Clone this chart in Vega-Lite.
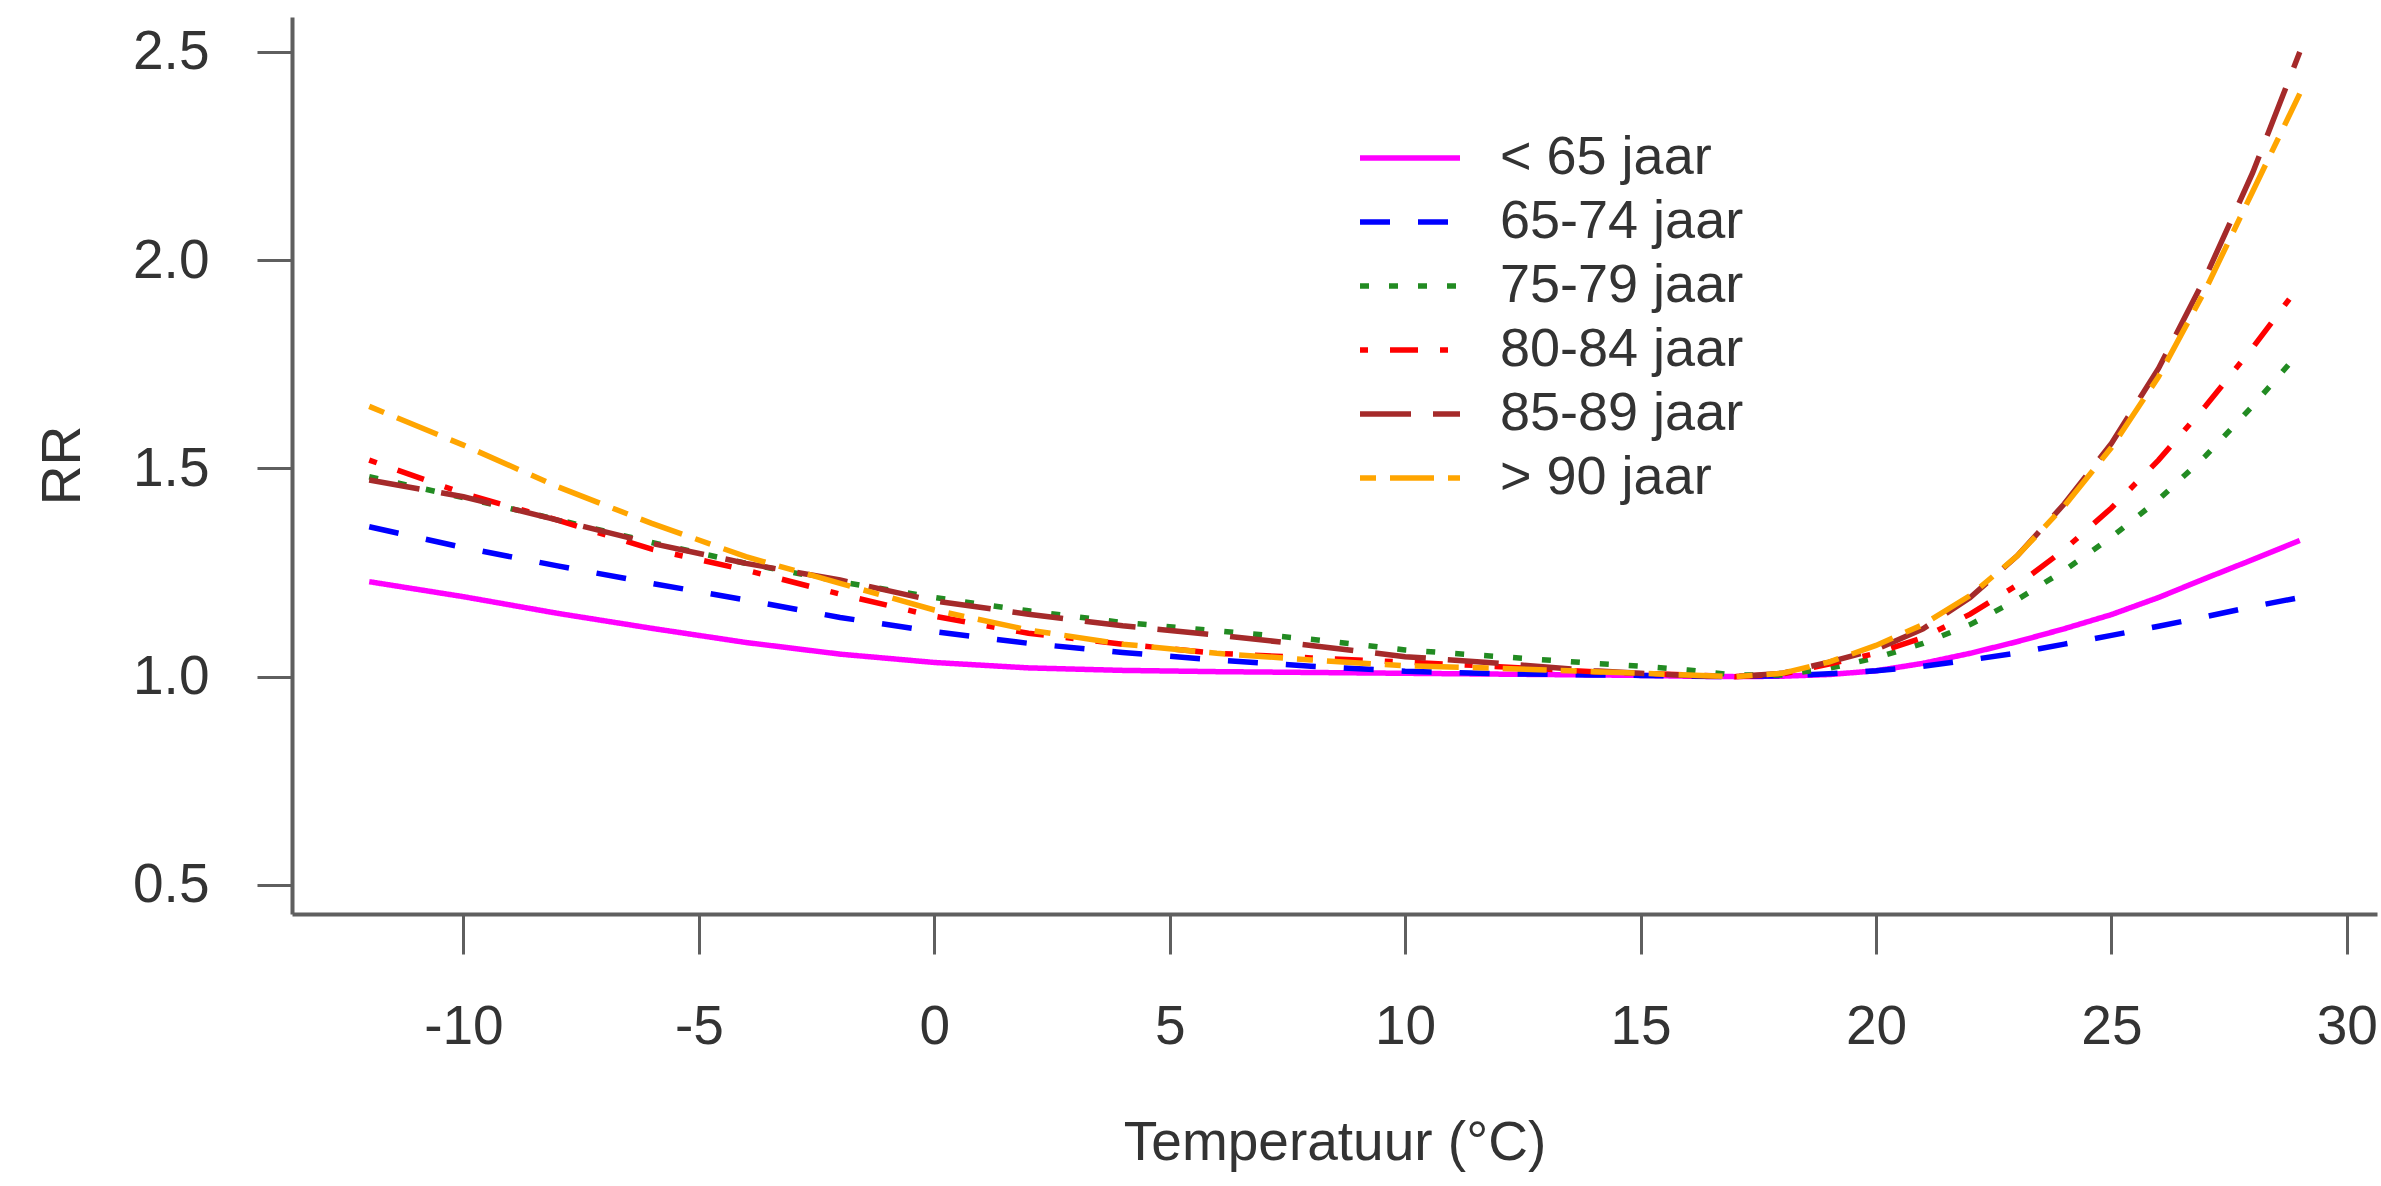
{
  "$schema": "https://vega.github.io/schema/vega-lite/v6.json",
  "width": 2085,
  "height": 897,
  "autosize": {"type": "none"},
  "padding": {"left": 292, "top": 17, "right": 4, "bottom": 272},
  "background": "white",
  "config": {
    "view": {"stroke": null},
    "font": "Liberation Sans",
    "axis": {
      "grid": false,
      "domainColor": "#5f5f5f",
      "domainWidth": 4,
      "tickColor": "#5f5f5f",
      "tickWidth": 3,
      "labelFont": "Liberation Sans",
      "labelFontSize": 55,
      "labelColor": "#333333",
      "titleFont": "Liberation Sans",
      "titleFontSize": 55,
      "titleFontWeight": "normal",
      "titleColor": "#333333",
      "labelFlush": false,
      "labelOverlap": false
    }
  },
  "layer": [
    {
      "mark": {"type": "rule", "color": "#555555", "strokeWidth": 3},
      "encoding": {"y": {"datum": 1, "type": "quantitative"}}
    },
    {
      "data": {"values": [
        {"t": -12, "groep": "< 65 jaar", "rr": 1.228}, {"t": -10, "groep": "< 65 jaar", "rr": 1.192}, {"t": -8, "groep": "< 65 jaar", "rr": 1.152}, {"t": -6, "groep": "< 65 jaar", "rr": 1.116}, {"t": -4, "groep": "< 65 jaar", "rr": 1.082}, {"t": -2, "groep": "< 65 jaar", "rr": 1.054}, {"t": 0, "groep": "< 65 jaar", "rr": 1.034}, {"t": 2, "groep": "< 65 jaar", "rr": 1.021}, {"t": 4, "groep": "< 65 jaar", "rr": 1.015}, {"t": 6, "groep": "< 65 jaar", "rr": 1.012}, {"t": 8, "groep": "< 65 jaar", "rr": 1.01}, {"t": 10, "groep": "< 65 jaar", "rr": 1.008}, {"t": 12, "groep": "< 65 jaar", "rr": 1.006}, {"t": 14, "groep": "< 65 jaar", "rr": 1.004}, {"t": 15, "groep": "< 65 jaar", "rr": 1.003}, {"t": 16, "groep": "< 65 jaar", "rr": 1.001}, {"t": 17, "groep": "< 65 jaar", "rr": 1.0}, {"t": 18, "groep": "< 65 jaar", "rr": 1.001}, {"t": 19, "groep": "< 65 jaar", "rr": 1.005}, {"t": 20, "groep": "< 65 jaar", "rr": 1.014}, {"t": 21, "groep": "< 65 jaar", "rr": 1.032}, {"t": 22, "groep": "< 65 jaar", "rr": 1.056}, {"t": 23, "groep": "< 65 jaar", "rr": 1.084}, {"t": 24, "groep": "< 65 jaar", "rr": 1.115}, {"t": 25, "groep": "< 65 jaar", "rr": 1.149}, {"t": 26, "groep": "< 65 jaar", "rr": 1.19}, {"t": 27, "groep": "< 65 jaar", "rr": 1.236}, {"t": 28, "groep": "< 65 jaar", "rr": 1.281}, {"t": 29, "groep": "< 65 jaar", "rr": 1.327},
        {"t": -12, "groep": "65-74 jaar", "rr": 1.36}, {"t": -10, "groep": "65-74 jaar", "rr": 1.31}, {"t": -8, "groep": "65-74 jaar", "rr": 1.266}, {"t": -6, "groep": "65-74 jaar", "rr": 1.224}, {"t": -4, "groep": "65-74 jaar", "rr": 1.184}, {"t": -2, "groep": "65-74 jaar", "rr": 1.142}, {"t": 0, "groep": "65-74 jaar", "rr": 1.108}, {"t": 2, "groep": "65-74 jaar", "rr": 1.08}, {"t": 4, "groep": "65-74 jaar", "rr": 1.058}, {"t": 6, "groep": "65-74 jaar", "rr": 1.04}, {"t": 8, "groep": "65-74 jaar", "rr": 1.025}, {"t": 10, "groep": "65-74 jaar", "rr": 1.013}, {"t": 12, "groep": "65-74 jaar", "rr": 1.007}, {"t": 14, "groep": "65-74 jaar", "rr": 1.004}, {"t": 15, "groep": "65-74 jaar", "rr": 1.003}, {"t": 16, "groep": "65-74 jaar", "rr": 1.001}, {"t": 17, "groep": "65-74 jaar", "rr": 1.0}, {"t": 18, "groep": "65-74 jaar", "rr": 1.002}, {"t": 19, "groep": "65-74 jaar", "rr": 1.007}, {"t": 20, "groep": "65-74 jaar", "rr": 1.014}, {"t": 21, "groep": "65-74 jaar", "rr": 1.025}, {"t": 22, "groep": "65-74 jaar", "rr": 1.04}, {"t": 23, "groep": "65-74 jaar", "rr": 1.057}, {"t": 24, "groep": "65-74 jaar", "rr": 1.078}, {"t": 25, "groep": "65-74 jaar", "rr": 1.099}, {"t": 26, "groep": "65-74 jaar", "rr": 1.121}, {"t": 27, "groep": "65-74 jaar", "rr": 1.144}, {"t": 28, "groep": "65-74 jaar", "rr": 1.168}, {"t": 29, "groep": "65-74 jaar", "rr": 1.19},
        {"t": -12, "groep": "75-79 jaar", "rr": 1.48}, {"t": -10, "groep": "75-79 jaar", "rr": 1.43}, {"t": -8, "groep": "75-79 jaar", "rr": 1.377}, {"t": -6, "groep": "75-79 jaar", "rr": 1.322}, {"t": -4, "groep": "75-79 jaar", "rr": 1.272}, {"t": -2, "groep": "75-79 jaar", "rr": 1.228}, {"t": 0, "groep": "75-79 jaar", "rr": 1.19}, {"t": 2, "groep": "75-79 jaar", "rr": 1.158}, {"t": 4, "groep": "75-79 jaar", "rr": 1.13}, {"t": 6, "groep": "75-79 jaar", "rr": 1.11}, {"t": 8, "groep": "75-79 jaar", "rr": 1.09}, {"t": 10, "groep": "75-79 jaar", "rr": 1.064}, {"t": 12, "groep": "75-79 jaar", "rr": 1.048}, {"t": 14, "groep": "75-79 jaar", "rr": 1.032}, {"t": 15, "groep": "75-79 jaar", "rr": 1.025}, {"t": 16, "groep": "75-79 jaar", "rr": 1.016}, {"t": 17, "groep": "75-79 jaar", "rr": 1.004}, {"t": 18, "groep": "75-79 jaar", "rr": 1.004}, {"t": 19, "groep": "75-79 jaar", "rr": 1.02}, {"t": 20, "groep": "75-79 jaar", "rr": 1.045}, {"t": 21, "groep": "75-79 jaar", "rr": 1.08}, {"t": 22, "groep": "75-79 jaar", "rr": 1.125}, {"t": 23, "groep": "75-79 jaar", "rr": 1.185}, {"t": 24, "groep": "75-79 jaar", "rr": 1.255}, {"t": 25, "groep": "75-79 jaar", "rr": 1.335}, {"t": 26, "groep": "75-79 jaar", "rr": 1.425}, {"t": 27, "groep": "75-79 jaar", "rr": 1.53}, {"t": 28, "groep": "75-79 jaar", "rr": 1.65}, {"t": 29, "groep": "75-79 jaar", "rr": 1.78},
        {"t": -12, "groep": "80-84 jaar", "rr": 1.52}, {"t": -10, "groep": "80-84 jaar", "rr": 1.44}, {"t": -8, "groep": "80-84 jaar", "rr": 1.376}, {"t": -6, "groep": "80-84 jaar", "rr": 1.306}, {"t": -4, "groep": "80-84 jaar", "rr": 1.256}, {"t": -2, "groep": "80-84 jaar", "rr": 1.198}, {"t": 0, "groep": "80-84 jaar", "rr": 1.145}, {"t": 2, "groep": "80-84 jaar", "rr": 1.104}, {"t": 4, "groep": "80-84 jaar", "rr": 1.078}, {"t": 6, "groep": "80-84 jaar", "rr": 1.056}, {"t": 8, "groep": "80-84 jaar", "rr": 1.045}, {"t": 10, "groep": "80-84 jaar", "rr": 1.035}, {"t": 12, "groep": "80-84 jaar", "rr": 1.024}, {"t": 14, "groep": "80-84 jaar", "rr": 1.012}, {"t": 15, "groep": "80-84 jaar", "rr": 1.008}, {"t": 16, "groep": "80-84 jaar", "rr": 1.004}, {"t": 17, "groep": "80-84 jaar", "rr": 1.0}, {"t": 18, "groep": "80-84 jaar", "rr": 1.006}, {"t": 19, "groep": "80-84 jaar", "rr": 1.03}, {"t": 20, "groep": "80-84 jaar", "rr": 1.056}, {"t": 21, "groep": "80-84 jaar", "rr": 1.094}, {"t": 22, "groep": "80-84 jaar", "rr": 1.15}, {"t": 23, "groep": "80-84 jaar", "rr": 1.22}, {"t": 24, "groep": "80-84 jaar", "rr": 1.305}, {"t": 25, "groep": "80-84 jaar", "rr": 1.405}, {"t": 26, "groep": "80-84 jaar", "rr": 1.52}, {"t": 27, "groep": "80-84 jaar", "rr": 1.65}, {"t": 28, "groep": "80-84 jaar", "rr": 1.79}, {"t": 29, "groep": "80-84 jaar", "rr": 1.94},
        {"t": -12, "groep": "85-89 jaar", "rr": 1.472}, {"t": -10, "groep": "85-89 jaar", "rr": 1.432}, {"t": -8, "groep": "85-89 jaar", "rr": 1.376}, {"t": -6, "groep": "85-89 jaar", "rr": 1.32}, {"t": -4, "groep": "85-89 jaar", "rr": 1.272}, {"t": -2, "groep": "85-89 jaar", "rr": 1.232}, {"t": 0, "groep": "85-89 jaar", "rr": 1.182}, {"t": 2, "groep": "85-89 jaar", "rr": 1.15}, {"t": 4, "groep": "85-89 jaar", "rr": 1.122}, {"t": 6, "groep": "85-89 jaar", "rr": 1.1}, {"t": 8, "groep": "85-89 jaar", "rr": 1.075}, {"t": 10, "groep": "85-89 jaar", "rr": 1.048}, {"t": 12, "groep": "85-89 jaar", "rr": 1.032}, {"t": 14, "groep": "85-89 jaar", "rr": 1.014}, {"t": 15, "groep": "85-89 jaar", "rr": 1.008}, {"t": 16, "groep": "85-89 jaar", "rr": 1.003}, {"t": 17, "groep": "85-89 jaar", "rr": 1.0}, {"t": 18, "groep": "85-89 jaar", "rr": 1.008}, {"t": 19, "groep": "85-89 jaar", "rr": 1.035}, {"t": 20, "groep": "85-89 jaar", "rr": 1.065}, {"t": 21, "groep": "85-89 jaar", "rr": 1.115}, {"t": 22, "groep": "85-89 jaar", "rr": 1.19}, {"t": 23, "groep": "85-89 jaar", "rr": 1.29}, {"t": 24, "groep": "85-89 jaar", "rr": 1.415}, {"t": 25, "groep": "85-89 jaar", "rr": 1.56}, {"t": 26, "groep": "85-89 jaar", "rr": 1.74}, {"t": 27, "groep": "85-89 jaar", "rr": 1.96}, {"t": 28, "groep": "85-89 jaar", "rr": 2.21}, {"t": 29, "groep": "85-89 jaar", "rr": 2.5},
        {"t": -12, "groep": "> 90 jaar", "rr": 1.649}, {"t": -10, "groep": "> 90 jaar", "rr": 1.556}, {"t": -8, "groep": "> 90 jaar", "rr": 1.456}, {"t": -6, "groep": "> 90 jaar", "rr": 1.368}, {"t": -4, "groep": "> 90 jaar", "rr": 1.288}, {"t": -2, "groep": "> 90 jaar", "rr": 1.224}, {"t": 0, "groep": "> 90 jaar", "rr": 1.16}, {"t": 2, "groep": "> 90 jaar", "rr": 1.112}, {"t": 4, "groep": "> 90 jaar", "rr": 1.078}, {"t": 6, "groep": "> 90 jaar", "rr": 1.056}, {"t": 8, "groep": "> 90 jaar", "rr": 1.04}, {"t": 10, "groep": "> 90 jaar", "rr": 1.026}, {"t": 12, "groep": "> 90 jaar", "rr": 1.02}, {"t": 14, "groep": "> 90 jaar", "rr": 1.012}, {"t": 15, "groep": "> 90 jaar", "rr": 1.008}, {"t": 16, "groep": "> 90 jaar", "rr": 1.004}, {"t": 17, "groep": "> 90 jaar", "rr": 1.0}, {"t": 18, "groep": "> 90 jaar", "rr": 1.008}, {"t": 19, "groep": "> 90 jaar", "rr": 1.035}, {"t": 20, "groep": "> 90 jaar", "rr": 1.075}, {"t": 21, "groep": "> 90 jaar", "rr": 1.125}, {"t": 22, "groep": "> 90 jaar", "rr": 1.195}, {"t": 23, "groep": "> 90 jaar", "rr": 1.29}, {"t": 24, "groep": "> 90 jaar", "rr": 1.41}, {"t": 25, "groep": "> 90 jaar", "rr": 1.55}, {"t": 26, "groep": "> 90 jaar", "rr": 1.72}, {"t": 27, "groep": "> 90 jaar", "rr": 1.93}, {"t": 28, "groep": "> 90 jaar", "rr": 2.165}, {"t": 29, "groep": "> 90 jaar", "rr": 2.4}
      ]},
      "mark": {"type": "line", "strokeWidth": 5.5},
      "encoding": {
        "x": {
          "field": "t", "type": "quantitative",
          "scale": {"domain": [-13.64, 30.64], "nice": false, "zero": false},
          "axis": {"values": [-10, -5, 0, 5, 10, 15, 20, 25, 30], "labelExpr": "toString(datum.value)", "tickSize": 40, "labelPadding": 46, "title": "Temperatuur (°C)", "titleY": 245, "titleBaseline": "alphabetic"}
        },
        "y": {
          "field": "rr", "type": "quantitative",
          "scale": {"domain": [0.43, 2.584], "nice": false, "zero": false},
          "axis": {"values": [0.5, 1, 1.5, 2, 2.5], "format": ".1f", "tickSize": 35, "labelPadding": 48, "title": "RR", "titleX": -213, "titleY": 448, "titleAngle": -90, "titleAlign": "center", "titleBaseline": "alphabetic"}
        },
        "color": {
          "field": "groep", "type": "nominal",
          "scale": {"domain": ["< 65 jaar", "65-74 jaar", "75-79 jaar", "80-84 jaar", "85-89 jaar", "> 90 jaar"], "range": ["#FF00FF", "#0000FF", "#228B22", "#FF0000", "#A52A2A", "#FFA500"]},
          "legend": {"orient": "none", "legendX": 1065, "legendY": 114, "title": null, "symbolType": "stroke", "symbolSize": 10000, "symbolStrokeWidth": 5.5, "labelFontSize": 54, "labelFont": "Liberation Sans", "labelColor": "#333333", "labelOffset": 37, "labelLimit": 0, "clipHeight": 54, "rowPadding": 10}
        },
        "strokeDash": {
          "field": "groep", "type": "nominal",
          "scale": {"domain": ["< 65 jaar", "65-74 jaar", "75-79 jaar", "80-84 jaar", "85-89 jaar", "> 90 jaar"], "range": [[1, 0], [30, 28], [9, 20], [8, 22, 28, 22], [51, 22], [16, 14, 44, 14]]},
          "legend": {"orient": "none", "legendX": 1065, "legendY": 114, "title": null, "symbolType": "stroke", "symbolSize": 10000, "symbolStrokeWidth": 5.5, "labelFontSize": 54, "labelFont": "Liberation Sans", "labelColor": "#333333", "labelOffset": 37, "labelLimit": 0, "clipHeight": 54, "rowPadding": 10}
        }
      }
    }
  ]
}
